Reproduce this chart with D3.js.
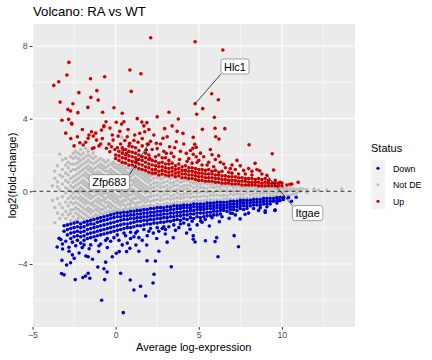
<!DOCTYPE html>
<html>
<head>
<meta charset="utf-8">
<script src="https://cdn.jsdelivr.net/npm/d3@7"></script>
<style>
  body { margin: 0; background: #fff; }
  svg { font-family: "Liberation Sans", Arial, sans-serif; }
</style>
</head>
<body>
<div id="chart"></div>
<script>
// --- Datos (x = expresion media, y = log2 fold-change) ---

// Not DE: columnas densas [x, [y...]]
var greyCols = [
  [-3.8, [-0.5, 0.3]],
  [-3.66, [-1.73, -0.9, 0.72, 1.1]],
  [-3.5, [-1.2, -0.4, 0.25, 0.53, 1.4]],
  [-3.36, [-1.5, -0.7, 0.07, 0.9, 2.04]],
  [-3.2, [-1.3, -0.9, -0.3, 0.4, 0.8, 1.2, 1.72]],
  [-3.0, [-1.5, -1.1, -0.6, -0.1, 0.2, 0.6, 1.0, 1.45, 1.8]],
  [-2.85, [-1.3, -0.8, -0.4, 0.1, 0.5, 0.9, 1.3, 1.6]],
  [-2.7, [-1.6, -1.21, -1.03, -0.6, -0.26, 0.0, 0.3, 0.7, 1.1, 1.5, 1.9]],
  [-2.55, [-1.4, -1.0, -0.7, -0.39, -0.1, 0.2, 0.5, 0.8, 1.2, 1.5, 1.8, 2.1]],
  [-2.4, [-1.6, -1.2, -0.9, -0.6, -0.3, 0.0, 0.3, 0.6, 0.9, 1.2, 1.5, 1.9, 2.2]],
  [-2.25, [-1.5, -1.3, -1.0, -0.7, -0.4, -0.1, 0.1, 0.4, 0.7, 1.0, 1.3, 1.6, 1.8, 2.1]],
  [-2.1, [-1.7, -1.4, -1.1, -0.8, -0.5, -0.3, 0.0, 0.2, 0.5, 0.8, 1.1, 1.4, 1.7, 2.0, 2.3]],
  [-1.95, [-1.5, -1.2, -0.9, -0.6, -0.4, -0.1, 0.1, 0.4, 0.6, 0.9, 1.2, 1.5, 1.8, 2.1]],
  [-1.8, [-1.6, -1.3, -1.0, -0.7, -0.5, -0.2, 0.0, 0.3, 0.5, 0.8, 1.0, 1.3, 1.6, 1.9, 2.37]],
  [-1.65, [-1.4, -1.1, -0.9, -0.6, -0.3, -0.1, 0.2, 0.4, 0.7, 0.9, 1.2, 1.4, 1.7, 2.0, 2.2]],
  [-1.5, [-1.5, -1.2, -1.0, -0.7, -0.4, -0.2, 0.1, 0.3, 0.6, 0.8, 1.1, 1.3, 1.6, 1.9]],
  [-1.35, [-1.4, -1.1, -0.8, -0.6, -0.3, 0.0, 0.2, 0.5, 0.7, 1.0, 1.2, 1.5, 1.8, 2.1]],
  [-1.2, [-1.3, -1.0, -0.8, -0.5, -0.2, 0.0, 0.3, 0.5, 0.8, 1.0, 1.3, 1.6, 1.9]],
  [-1.05, [-1.35, -1.1, -0.9, -0.6, -0.4, -0.1, 0.1, 0.4, 0.6, 0.9, 1.1, 1.4, 1.7]],
  [-0.9, [-1.2, -1.0, -0.7, -0.5, -0.2, 0.0, 0.3, 0.5, 0.8, 1.0, 1.3, 1.5, 1.8]],
  [-0.75, [-1.25, -1.0, -0.8, -0.5, -0.3, -0.1, 0.2, 0.4, 0.7, 0.9, 1.2, 1.4, 1.7]],
  [-0.6, [-1.15, -0.9, -0.6, -0.4, -0.1, 0.1, 0.3, 0.6, 0.8, 1.1, 1.3, 1.6]],
  [-0.45, [-1.1, -0.8, -0.6, -0.3, -0.1, 0.2, 0.4, 0.6, 0.9, 1.1, 1.4, 1.7]],
  [-0.3, [-1.15, -0.9, -0.7, -0.4, -0.2, 0.0, 0.3, 0.5, 0.7, 1.0, 1.2, 1.5]],
  [-0.15, [-1.05, -0.8, -0.5, -0.3, -0.1, 0.1, 0.4, 0.6, 0.9, 1.1, 1.4, 1.6]],
  [0.0, [-1.1, -0.9, -0.6, -0.4, -0.2, 0.1, 0.3, 0.5, 0.8, 1.0, 1.3, 1.5]],
  [0.15, [-1.0, -0.7, -0.5, -0.3, 0.0, 0.2, 0.4, 0.7, 0.9, 1.2, 1.4]],
  [0.3, [-1.05, -0.8, -0.6, -0.3, -0.1, 0.1, 0.4, 0.6, 0.8, 1.1, 1.3, 1.5]],
  [0.36, [2.97]],
  [0.45, [-1.0, -0.7, -0.5, -0.2, 0.0, 0.3, 0.5, 0.7, 1.0, 1.2, 1.4]],
  [0.6, [-0.95, -0.8, -0.5, -0.3, -0.1, 0.2, 0.4, 0.6, 0.9, 1.1, 1.3]],
  [0.75, [-1.0, -0.7, -0.4, -0.2, 0.0, 0.3, 0.5, 0.8, 1.0, 1.3]],
  [0.9, [-0.9, -0.7, -0.5, -0.2, 0.1, 0.3, 0.6, 0.8, 1.0, 1.2]],
  [1.05, [-0.95, -0.6, -0.4, -0.1, 0.1, 0.4, 0.6, 0.9, 1.1, 1.35]],
  [1.2, [-0.9, -0.7, -0.4, -0.2, 0.0, 0.3, 0.5, 0.7, 1.0, 1.2]],
  [1.35, [-0.85, -0.6, -0.3, -0.1, 0.2, 0.4, 0.6, 0.9, 1.1]],
  [1.5, [-0.9, -0.6, -0.4, -0.2, 0.1, 0.3, 0.5, 0.8, 1.0, 1.2]],
  [1.65, [-0.8, -0.5, -0.3, 0.0, 0.2, 0.4, 0.7, 0.9, 1.1]],
  [1.8, [-0.85, -0.6, -0.4, -0.1, 0.1, 0.3, 0.6, 0.8, 1.0]],
  [1.95, [-0.8, -0.5, -0.3, 0.0, 0.2, 0.5, 0.7, 0.9]],
  [2.1, [-0.75, -0.55, -0.3, -0.1, 0.15, 0.35, 0.6, 0.85]],
  [2.3, [-0.8, -0.5, -0.25, 0.0, 0.2, 0.45, 0.7, 0.9]],
  [2.5, [-0.7, -0.45, -0.2, 0.05, 0.3, 0.5, 0.75]],
  [2.7, [-0.75, -0.5, -0.3, -0.05, 0.2, 0.4, 0.65, 0.85]],
  [2.9, [-0.7, -0.45, -0.2, 0.0, 0.25, 0.5, 0.75]],
  [3.1, [-0.65, -0.4, -0.15, 0.1, 0.3, 0.55, 0.8]],
  [3.3, [-0.7, -0.45, -0.25, 0.0, 0.2, 0.45, 0.7]],
  [3.5, [-0.65, -0.4, -0.2, 0.05, 0.3, 0.5, 0.75]],
  [3.7, [-0.6, -0.35, -0.1, 0.1, 0.35, 0.6]],
  [3.9, [-0.65, -0.4, -0.2, 0.05, 0.25, 0.5, 0.7]],
  [4.1, [-0.6, -0.35, -0.15, 0.1, 0.3, 0.55]],
  [4.3, [-0.55, -0.3, -0.1, 0.15, 0.35, 0.6]],
  [4.5, [-0.6, -0.35, -0.15, 0.05, 0.3, 0.5]],
  [4.7, [-0.55, -0.3, -0.05, 0.2, 0.45]],
  [4.9, [-0.5, -0.3, -0.1, 0.1, 0.3, 0.5]],
  [5.1, [-0.55, -0.3, -0.05, 0.2, 0.4]],
  [5.3, [-0.5, -0.25, 0.0, 0.2, 0.45]],
  [5.5, [-0.5, -0.3, -0.05, 0.15, 0.4]],
  [5.7, [-0.45, -0.2, 0.0, 0.25, 0.4]],
  [5.9, [-0.5, -0.25, -0.05, 0.2, 0.4]],
  [6.1, [-0.45, -0.2, 0.05, 0.25, 0.4]],
  [6.3, [-0.5, -0.25, 0.0, 0.2, 0.35]],
  [6.5, [-0.4, -0.2, 0.05, 0.3]],
  [6.7, [-0.45, -0.25, 0.0, 0.2, 0.35]],
  [6.9, [-0.4, -0.15, 0.05, 0.3]],
  [7.1, [-0.45, -0.2, 0.0, 0.2, 0.3]],
  [7.3, [-0.4, -0.15, 0.05, 0.25]],
  [7.5, [-0.35, -0.15, 0.05, 0.25]],
  [7.7, [-0.4, -0.2, 0.0, 0.2]],
  [7.9, [-0.35, -0.1, 0.1, 0.25]],
  [8.1, [-0.4, -0.2, 0.0, 0.2]],
  [8.3, [-0.35, -0.15, 0.05, 0.25]],
  [8.5, [-0.3, -0.1, 0.1, 0.2]],
  [8.7, [-0.35, -0.15, 0.0, 0.2]],
  [8.9, [-0.3, -0.1, 0.1, 0.25]],
  [9.1, [-0.3, -0.1, 0.05, 0.2]],
  [9.3, [-0.3, -0.15, 0.05, 0.2]],
  [9.5, [-0.25, -0.05, 0.15]],
  [9.7, [-0.3, -0.1, 0.1, 0.2]],
  [9.9, [-0.25, -0.05, 0.15]],
  [10.1, [-0.25, -0.05, 0.1, 0.2]],
  [10.3, [-0.2, 0.0, 0.15]],
  [10.5, [-0.2, 0.05, 0.2]],
  [10.7, [-0.15, 0.05, 0.15]],
  [10.9, [-0.1, 0.1]],
  [11.1, [0.0, 0.15]],
  [11.28, [0.13]],
  [11.5, [-0.05, 0.1]],
  [11.93, [0.13]],
  [12.2, [0.07]],
  [12.7, [0.07]],
  [13.6, [0.13]]
];

// Up: banda densa
var redCols = [
  [0.0, [1.8, 2.0]],
  [0.2, [1.7, 1.95, 2.2]],
  [0.4, [1.6, 1.85, 2.1, 2.4]],
  [0.6, [1.55, 1.8, 2.0, 2.3]],
  [0.8, [1.45, 1.7, 1.95, 2.2, 2.5]],
  [1.0, [1.45, 1.65, 1.9, 2.15]],
  [1.2, [1.35, 1.6, 1.85, 2.1, 2.4]],
  [1.4, [1.25, 1.5, 1.75, 2.0, 2.25]],
  [1.6, [1.2, 1.45, 1.7, 1.9]],
  [1.8, [1.15, 1.35, 1.6, 1.85, 2.1]],
  [2.0, [1.05, 1.3, 1.5, 1.75, 2.0]],
  [2.2, [1.0, 1.2, 1.45, 1.7]],
  [2.4, [1.0, 1.2, 1.4, 1.65, 1.9]],
  [2.6, [0.9, 1.1, 1.35, 1.55]],
  [2.8, [0.95, 1.15, 1.35, 1.6, 1.85]],
  [3.0, [0.9, 1.1, 1.3, 1.5]],
  [3.2, [0.85, 1.05, 1.25, 1.5, 1.7]],
  [3.4, [0.9, 1.1, 1.3, 1.55]],
  [3.6, [0.8, 1.0, 1.2, 1.4]],
  [3.8, [0.85, 1.05, 1.25, 1.5]],
  [4.0, [0.75, 0.95, 1.15, 1.35]],
  [4.2, [0.75, 0.95, 1.15, 1.4]],
  [4.4, [0.7, 0.9, 1.1, 1.3]],
  [4.6, [0.7, 0.9, 1.1, 1.3, 1.55]],
  [4.8, [0.65, 0.85, 1.05, 1.25]],
  [5.0, [0.6, 0.8, 1.0, 1.2]],
  [5.2, [0.6, 0.8, 1.0, 1.2, 1.45]],
  [5.4, [0.55, 0.75, 0.95, 1.15]],
  [5.6, [0.55, 0.75, 0.95, 1.2]],
  [5.8, [0.55, 0.75, 0.95, 1.1]],
  [6.0, [0.5, 0.7, 0.9, 1.15]],
  [6.2, [0.5, 0.7, 0.9, 1.05]],
  [6.4, [0.45, 0.65, 0.85, 1.1]],
  [6.6, [0.45, 0.65, 0.85]],
  [6.8, [0.45, 0.6, 0.8, 1.05]],
  [7.0, [0.4, 0.6, 0.8, 1.0]],
  [7.2, [0.4, 0.6, 0.8]],
  [7.4, [0.4, 0.55, 0.75, 0.95]],
  [7.6, [0.35, 0.55, 0.75]],
  [7.8, [0.35, 0.55, 0.7, 0.95]],
  [8.0, [0.35, 0.5, 0.7]],
  [8.2, [0.35, 0.5, 0.7, 0.9]],
  [8.4, [0.35, 0.5, 0.65]],
  [8.6, [0.3, 0.5, 0.7]],
  [8.8, [0.3, 0.45, 0.65]],
  [9.0, [0.3, 0.5, 0.7]],
  [9.2, [0.3, 0.45, 0.6]],
  [9.4, [0.3, 0.45]],
  [9.6, [0.3, 0.45, 0.6]],
  [9.8, [0.3, 0.45]],
  [10.0, [0.3, 0.45]],
  [10.3, [0.35]],
  [10.6, [0.4]]
];

// Up: puntos sueltos
var redPts = [
  [2.11, 8.45], [4.78, 8.23], [6.45, 7.78], [-2.81, 7.1], [0.86, 6.68], [1.52, 6.47],
  [-2.93, 6.4], [-0.66, 6.31], [-1.51, 6.2], [-3.42, 6.03], [-3.72, 5.83], [-1.13, 5.54],
  [0.94, 5.5], [-2.21, 5.43], [5.78, 5.37], [-1.49, 5.17], [6.18, 5.04], [-1.05, 5.02],
  [-3.34, 4.91], [-2.57, 4.82], [4.78, 4.82], [-1.67, 4.62], [5.24, 4.55], [-2.87, 4.51],
  [-2.71, 4.42], [-0.78, 4.35], [3.21, 4.35], [-2.27, 4.33], [4.88, 4.24], [5.94, 4.07],
  [1.3, 4.0], [3.77, 3.98], [-2.83, 3.96], [-3.23, 3.91], [-0.58, 3.83], [0.5, 3.83],
  [1.58, 3.81], [0.04, 3.8], [1.88, 3.78], [-2.65, 3.74], [-2.63, 3.7], [0.36, 3.7],
  [-0.7, 3.61], [-0.71, 3.56], [-0.34, 3.48], [5.98, 3.47], [2.95, 3.45], [6.57, 3.45],
  [5.22, 3.41], [-0.85, 3.37], [-1.45, 3.28], [1.75, 3.28], [1.45, 3.19], [4.05, 3.19],
  [-1.35, 3.04], [0.15, 3.04], [6.02, 3.0], [4.67, 2.97], [-1.65, 2.92], [2.85, 2.92],
  [6.22, 2.88], [-1.15, 2.82], [-0.15, 2.82], [3.65, 2.73], [-2.15, 2.67], [0.85, 2.64],
  [2.45, 2.64], [1.97, 2.59], [4.76, 2.59], [8.03, 2.56], [-1.95, 2.55], [-0.25, 2.45],
  [3.25, 2.45], [4.85, 2.42], [-0.55, 2.37], [4.65, 2.37], [0.45, 2.27], [1.85, 2.27],
  [-0.35, 2.18], [0.65, 2.09], [3.05, 2.09], [4.25, 2.09], [9.42, 2.07], [4.67, 2.04],
  [5.8, 2.01], [4.85, 1.9], [2.05, 1.82], [1.25, 1.72], [8.39, 1.54], [9.5, 1.17],
  [8.67, 1.13], [9.1, 0.88], [9.9, 0.5], [10.98, 0.5], [10.48, 0.39],
  [5.0, 1.7], [5.3, 1.9], [5.6, 1.6], [6.0, 1.75], [6.5, 1.5], [7.0, 1.45], [7.5, 1.4],
  [6.2, 1.95], [5.7, 2.3], [7.3, 1.7], [8.0, 1.25], [8.5, 1.2], [3.5, 1.9], [3.9, 2.2],
  [4.4, 1.8], [2.6, 2.0], [2.2, 2.3], [1.6, 2.5], [1.1, 2.8], [0.3, 2.6], [0.7, 3.0],
  [1.9, 2.6], [3.0, 1.85], [-0.9, 2.6], [-1.3, 2.4], [-2.5, 2.5], [-0.05, 2.3],
  [-1.8, 2.7], [-1.6, 3.1], [-1.2, 3.2], [-1.0, 2.5], [-0.8, 2.9], [-0.4, 2.6], [-0.2, 3.1],
  [0.1, 2.4], [0.25, 3.3], [0.55, 2.8], [0.75, 3.4], [1.0, 2.45], [1.15, 3.1], [1.35, 2.7],
  [1.6, 2.9], [1.7, 3.6], [2.1, 2.75], [2.3, 3.1], [2.5, 2.35], [2.7, 2.6], [2.9, 2.2],
  [3.1, 3.0], [3.35, 2.1], [3.55, 2.4], [3.7, 3.3], [3.85, 1.75], [4.1, 2.6], [4.3, 1.65],
  [4.5, 2.25], [4.9, 1.6], [5.1, 2.1], [5.5, 1.45], [5.9, 1.35], [6.3, 1.6], [6.6, 1.3],
  [6.9, 1.25], [7.2, 1.2], [7.7, 1.15], [8.2, 1.1], [8.8, 0.95], [-2.3, 3.0], [-2.0, 3.4],
  [-2.7, 2.9], [-3.0, 3.2], [-1.4, 2.35], [2.0, 3.4], [0.4, 4.3], [2.5, 4.1], [-0.1, 4.6],
  [3.4, 3.6]
];

// Down: banda densa
var blueCols = [
  [-3.1, [-1.9, -2.2]],
  [-2.9, [-1.85, -2.1, -2.4]],
  [-2.7, [-1.8, -2.05, -2.3, -2.6]],
  [-2.5, [-1.75, -2.0, -2.25, -2.5]],
  [-2.3, [-1.7, -1.95, -2.2, -2.45, -2.7]],
  [-2.1, [-1.8, -2.0, -2.25, -2.5]],
  [-1.9, [-1.7, -1.95, -2.2, -2.45, -2.7]],
  [-1.7, [-1.65, -1.85, -2.1, -2.35, -2.6]],
  [-1.5, [-1.6, -1.8, -2.05, -2.3, -2.55]],
  [-1.3, [-1.55, -1.8, -2.0, -2.25, -2.5]],
  [-1.1, [-1.5, -1.7, -1.95, -2.2, -2.45]],
  [-0.9, [-1.45, -1.65, -1.9, -2.15, -2.4]],
  [-0.7, [-1.4, -1.6, -1.85, -2.1, -2.35]],
  [-0.5, [-1.35, -1.55, -1.8, -2.05, -2.3, -2.6]],
  [-0.3, [-1.3, -1.5, -1.75, -2.0, -2.25]],
  [-0.1, [-1.25, -1.45, -1.7, -1.95, -2.2]],
  [0.1, [-1.2, -1.4, -1.65, -1.9, -2.15, -2.4]],
  [0.3, [-1.2, -1.4, -1.6, -1.85, -2.1]],
  [0.5, [-1.15, -1.35, -1.55, -1.8, -2.05, -2.3]],
  [0.7, [-1.15, -1.35, -1.55, -1.8, -2.0]],
  [0.9, [-1.1, -1.3, -1.5, -1.75, -2.0, -2.25]],
  [1.1, [-1.1, -1.3, -1.5, -1.7, -1.95]],
  [1.3, [-1.05, -1.25, -1.45, -1.65, -1.9, -2.2]],
  [1.5, [-1.05, -1.25, -1.45, -1.65, -1.9]],
  [1.7, [-1.0, -1.2, -1.4, -1.6, -1.85, -2.1]],
  [1.9, [-1.0, -1.2, -1.4, -1.6, -1.8]],
  [2.1, [-0.95, -1.15, -1.35, -1.55, -1.8, -2.05]],
  [2.3, [-0.95, -1.15, -1.35, -1.55, -1.75]],
  [2.5, [-0.9, -1.1, -1.3, -1.5, -1.75, -2.0]],
  [2.7, [-0.9, -1.1, -1.3, -1.5, -1.7]],
  [2.9, [-0.9, -1.05, -1.25, -1.45, -1.7, -1.95]],
  [3.1, [-0.85, -1.05, -1.25, -1.45, -1.65]],
  [3.3, [-0.85, -1.0, -1.2, -1.4, -1.65]],
  [3.5, [-0.8, -1.0, -1.2, -1.4, -1.6, -1.85]],
  [3.7, [-0.8, -0.95, -1.15, -1.35, -1.55]],
  [3.9, [-0.8, -0.95, -1.15, -1.35, -1.6]],
  [4.1, [-0.75, -0.9, -1.1, -1.3, -1.5]],
  [4.3, [-0.75, -0.9, -1.1, -1.3, -1.55]],
  [4.5, [-0.75, -0.9, -1.05, -1.25, -1.45]],
  [4.7, [-0.7, -0.85, -1.05, -1.25, -1.5]],
  [4.9, [-0.7, -0.85, -1.0, -1.2, -1.4]],
  [5.1, [-0.7, -0.85, -1.0, -1.2, -1.45]],
  [5.3, [-0.7, -0.85, -1.0, -1.2, -1.4]],
  [5.5, [-0.65, -0.8, -0.95, -1.15, -1.35]],
  [5.7, [-0.65, -0.8, -0.95, -1.15, -1.35]],
  [5.9, [-0.65, -0.8, -0.95, -1.1, -1.3]],
  [6.1, [-0.6, -0.75, -0.9, -1.1, -1.3]],
  [6.3, [-0.6, -0.75, -0.9, -1.05, -1.25]],
  [6.5, [-0.6, -0.75, -0.9, -1.05]],
  [6.7, [-0.6, -0.75, -0.9, -1.1]],
  [6.9, [-0.55, -0.7, -0.85, -1.0, -1.2]],
  [7.1, [-0.55, -0.7, -0.85, -1.0]],
  [7.3, [-0.55, -0.7, -0.85, -1.05]],
  [7.5, [-0.5, -0.65, -0.8, -0.95]],
  [7.7, [-0.5, -0.65, -0.8, -1.0]],
  [7.9, [-0.5, -0.65, -0.8, -0.95]],
  [8.1, [-0.5, -0.65, -0.8]],
  [8.3, [-0.45, -0.6, -0.75, -0.95]],
  [8.5, [-0.45, -0.6, -0.75]],
  [8.7, [-0.45, -0.6, -0.75, -0.9]],
  [8.9, [-0.4, -0.55, -0.7]],
  [9.1, [-0.4, -0.55, -0.7, -0.85]],
  [9.3, [-0.4, -0.55, -0.7]],
  [9.5, [-0.4, -0.55]],
  [9.7, [-0.35, -0.5, -0.65]],
  [9.9, [-0.35, -0.5]],
  [10.1, [-0.35, -0.45]],
  [10.4, [-0.35]]
];

// Down: puntos sueltos
var bluePts = [
  [0.46, -6.68], [-0.84, -6.0], [1.81, -5.76], [1.1, -5.43], [1.5, -5.23], [2.25, -5.05],
  [0.88, -4.88], [-0.66, -4.86], [-2.43, -4.86], [-1.55, -4.79], [-1.97, -4.75], [-1.81, -4.66],
  [-3.1, -4.6], [2.31, -4.57], [-3.25, -4.53], [0.3, -4.51], [-1.65, -4.51], [-0.51, -4.44],
  [-0.7, -4.26], [-1.07, -4.17], [3.35, -4.15], [-2.95, -4.06], [-2.71, -3.93], [2.39, -3.84],
  [1.89, -3.82], [-3.23, -3.8], [-1.39, -3.74], [-2.49, -3.69], [-1.65, -3.6], [6.16, -3.6],
  [-1.79, -3.56], [0.04, -3.41], [-1.02, -3.32], [0.22, -3.32], [0.66, -3.32], [-3.19, -3.18],
  [-1.59, -3.16], [0.86, -3.14], [-2.01, -3.1], [-2.81, -3.08], [-3.52, -3.07], [7.39, -3.05],
  [1.22, -2.96], [1.87, -2.96], [4.78, -2.79], [5.98, -2.77], [5.4, -2.72], [4.67, -2.64],
  [-3.4, -2.59], [6.08, -2.55], [7.13, -2.44], [4.48, -2.09], [5.64, -1.91], [6.24, -1.67],
  [5.12, -1.63], [7.49, -1.52], [6.83, -1.49], [7.79, -1.27], [7.02, -1.21], [9.0, -1.16],
  [9.0, -1.08], [9.58, -1.05], [9.6, -1.03], [10.58, -0.55], [9.82, -0.5], [10.86, -0.33],
  [-3.3, -2.65], [-3.2, -2.9], [-2.6, -2.8], [-2.1, -2.85], [-1.5, -2.95], [-0.9, -2.9],
  [-0.3, -2.75], [0.2, -2.7], [0.4, -2.95], [0.9, -2.6], [1.4, -2.55], [1.9, -2.45],
  [2.27, -2.3], [2.47, -2.6], [2.99, -2.35], [3.47, -2.55], [4.27, -2.3], [4.67, -2.45],
  [3.0, -2.1], [3.8, -2.0], [4.4, -1.85], [5.2, -1.7], [-0.6, -2.7], [1.1, -2.5],
  [-3.0, -2.75], [-2.8, -3.3], [-2.4, -3.0], [-2.2, -3.4], [-1.9, -2.95], [-1.2, -2.7],
  [-1.0, -3.0], [-0.5, -3.1], [-0.1, -2.55], [0.6, -2.45], [0.7, -2.85], [1.2, -2.3],
  [1.6, -2.7], [2.0, -2.2], [2.6, -2.2], [2.8, -2.05], [3.2, -1.95], [3.6, -2.15],
  [3.9, -1.8], [4.1, -1.75], [4.6, -1.65], [4.9, -1.85], [5.4, -1.55], [5.8, -1.45],
  [6.4, -1.4], [7.2, -1.3], [8.0, -1.2], [8.6, -1.05], [-2.6, -3.5], [-0.2, -3.6],
  [1.4, -3.3], [-0.6, -3.9], [3.1, -2.8], [2.6, -3.3]
];

// Genes etiquetados: punto y centro de la etiqueta
var genes = ["Hlc1", "Zfp683", "Itgae"];
var genePts = [[4.78, 4.82], [1.97, 2.59], [9.1, 0.88]];
var labelPos = [[7.18, 6.87], [-0.38, 0.5], [11.55, -1.2]];

var xTicks = [-5, 0, 5, 10], xMinor = [-2.5, 2.5, 7.5, 12.5];
var yTicks = [-4, 0, 4, 8], yMinor = [-6, -2, 2, 6];
var statusNames = ["Down", "Not DE", "Up"];
var statusColors = ["#0000CD", "#BEBEBE", "#CD0000"];

// --- Dibujo ---
function expandir(cols) {
    var out = [];
    cols.forEach(function (c) {
        c[1].forEach(function (y) { out.push([c[0], y]); });
    });
    return out;
}

var W = 432, H = 360;
var panel = { left: 32.5, right: 355, top: 24, bottom: 327 };

var svg = d3.select("#chart").append("svg")
    .attr("width", W).attr("height", H);

svg.append("rect").attr("width", W).attr("height", H).attr("fill", "#fff");

var x = d3.scaleLinear().domain([-5, 14.4]).range([panel.left, panel.right]);
var y = d3.scaleLinear().domain([-7.47, 9.21]).range([panel.bottom, panel.top]);

// fondo del panel
svg.append("rect")
    .attr("x", panel.left).attr("y", panel.top)
    .attr("width", panel.right - panel.left).attr("height", panel.bottom - panel.top)
    .attr("fill", "#EBEBEB");

var grid = svg.append("g");
xMinor.forEach(function (v) {
    grid.append("line").attr("x1", x(v)).attr("x2", x(v)).attr("y1", panel.top).attr("y2", panel.bottom)
        .attr("stroke", "#fff").attr("stroke-width", 0.55);
});
yMinor.forEach(function (v) {
    grid.append("line").attr("y1", y(v)).attr("y2", y(v)).attr("x1", panel.left).attr("x2", panel.right)
        .attr("stroke", "#fff").attr("stroke-width", 0.55);
});
xTicks.forEach(function (v) {
    grid.append("line").attr("x1", x(v)).attr("x2", x(v)).attr("y1", panel.top).attr("y2", panel.bottom)
        .attr("stroke", "#fff").attr("stroke-width", 1.1);
});
yTicks.forEach(function (v) {
    grid.append("line").attr("y1", y(v)).attr("y2", y(v)).attr("x1", panel.left).attr("x2", panel.right)
        .attr("stroke", "#fff").attr("stroke-width", 1.1);
});

// puntos
var capas = [
    { data: expandir(greyCols), color: statusColors[1] },
    { data: expandir(blueCols).concat(bluePts), color: statusColors[0] },
    { data: expandir(redCols).concat(redPts), color: statusColors[2] }
];
capas.forEach(function (c) {
    svg.append("g").selectAll("circle")
        .data(c.data)
        .enter().append("circle")
        .attr("cx", function (d) { return x(d[0]); })
        .attr("cy", function (d) { return y(d[1]); })
        .attr("r", 1.8)
        .attr("fill", c.color);
});

// linea discontinua en 0
svg.append("line")
    .attr("x1", panel.left).attr("x2", panel.right)
    .attr("y1", y(0)).attr("y2", y(0))
    .attr("stroke", "#000").attr("stroke-width", 0.8)
    .attr("stroke-dasharray", "4,3");

// ejes
var xAxis = svg.append("g")
    .attr("transform", "translate(0," + panel.bottom + ")")
    .call(d3.axisBottom(x).tickValues(xTicks).tickSize(2.75).tickPadding(2).tickFormat(d3.format("d")));
var yAxis = svg.append("g")
    .attr("transform", "translate(" + panel.left + ",0)")
    .call(d3.axisLeft(y).tickValues(yTicks).tickSize(2.75).tickPadding(2).tickFormat(d3.format("d")));
[xAxis, yAxis].forEach(function (a) {
    a.select(".domain").remove();
    a.selectAll("line").attr("stroke", "#333");
    a.selectAll("text").attr("fill", "#4D4D4D").style("font-size", "8.8px")
        .style("font-family", "Liberation Sans, Arial, sans-serif");
});

// titulos
svg.append("text").attr("x", 33).attr("y", 15.5)
    .style("font-size", "13.2px").attr("fill", "#000").text("Volcano: RA vs WT");
svg.append("text").attr("x", (panel.left + panel.right) / 2).attr("y", 351)
    .attr("text-anchor", "middle").style("font-size", "11px").attr("fill", "#000")
    .text("Average log-expression");
svg.append("text")
    .attr("transform", "translate(16," + ((panel.top + panel.bottom) / 2) + ") rotate(-90)")
    .attr("text-anchor", "middle").style("font-size", "11px").attr("fill", "#000")
    .text("log2(fold-change)");

// etiquetas de genes (estilo ggrepel)
var etiquetas = svg.append("g");
genes.forEach(function (g, i) {
    var px = x(genePts[i][0]), py = y(genePts[i][1]);
    var cx = x(labelPos[i][0]), cy = y(labelPos[i][1]);
    var t = etiquetas.append("text").attr("x", cx).attr("y", cy + 4)
        .attr("text-anchor", "middle").style("font-size", "11px").attr("fill", "#000").text(g);
    var bb = t.node().getBBox();
    var bw = bb.width + 6, bh = 15;
    var bx = cx - bw / 2, by = cy - bh / 2;
    // punto del borde mas cercano (esquinas y centros de lados)
    var cands = [];
    [bx, cx, bx + bw].forEach(function (qx) {
        [by, cy, by + bh].forEach(function (qy) {
            if (!(qx === cx && qy === cy)) cands.push([qx, qy]);
        });
    });
    var best = d3.least(cands, function (c) { return Math.hypot(c[0] - px, c[1] - py); });
    etiquetas.insert("line", "text")
        .attr("x1", px).attr("y1", py).attr("x2", best[0]).attr("y2", best[1])
        .attr("stroke", "#000").attr("stroke-width", 0.7);
    etiquetas.insert("rect", "text")
        .attr("x", bx).attr("y", by).attr("width", bw).attr("height", bh)
        .attr("rx", 2.5).attr("fill", "#fff").attr("stroke", "#666").attr("stroke-width", 0.6);
});

// leyenda
var leg = svg.append("g").attr("transform", "translate(371,0)");
leg.append("text").attr("x", 0).attr("y", 152).style("font-size", "11px").attr("fill", "#000").text("Status");
statusNames.forEach(function (s, i) {
    var ky = 160 + i * 16.5;
    leg.append("rect").attr("x", 0).attr("y", ky).attr("width", 14).attr("height", 16.5).attr("fill", "#F2F2F2");
    leg.append("circle").attr("cx", 7).attr("cy", ky + 8.25).attr("r", 1.6).attr("fill", statusColors[i]);
    leg.append("text").attr("x", 22).attr("y", ky + 11.5).style("font-size", "8.8px").attr("fill", "#000").text(s);
});
</script>
</body>
</html>
